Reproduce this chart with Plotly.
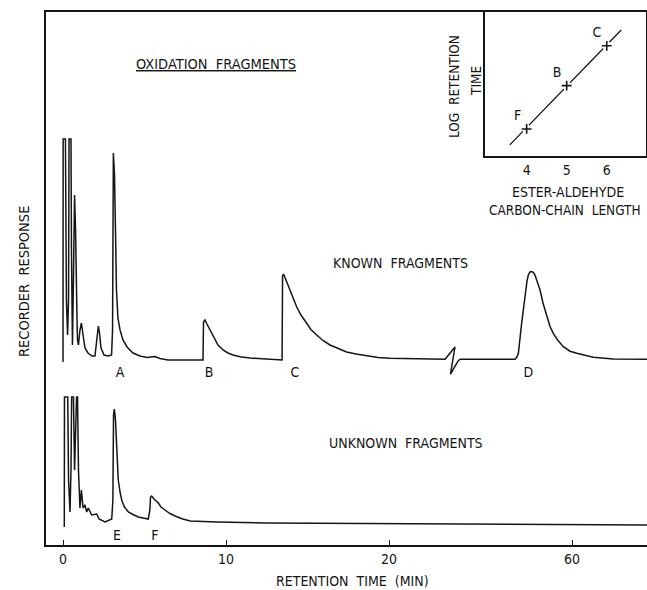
import plotly.graph_objects as go

# ---------------- data ----------------
# Known fragments: time (min) and recorder response (arbitrary units above its own baseline)
known_t1 = [0.00, 0.01, 0.15, 0.21, 0.28, 0.34, 0.37, 0.49, 0.52, 0.58, 0.64, 0.71, 0.77, 0.80,
            0.86, 0.89, 0.95, 1.04, 1.13, 1.23, 1.35, 1.53, 1.78, 1.96, 2.09, 2.17, 2.24, 2.33,
            2.52, 2.76, 2.98, 3.04, 3.09, 3.16, 3.22, 3.28, 3.37, 3.50, 3.68, 3.93, 4.29, 4.72,
            5.15, 5.46, 5.64, 5.95, 6.44, 7.18, 8.59, 8.62, 8.71, 8.83, 9.02, 9.26, 9.51, 9.82,
            10.12, 10.43, 10.86, 11.47, 12.39, 13.44, 13.47, 13.53, 13.68, 13.93, 14.11, 14.34,
            14.60, 14.95, 15.21, 15.56, 15.95, 16.38, 16.87, 17.40, 17.98, 18.63, 19.33, 20.06,
            21.90, 23.44, 24.05, 23.77, 24.25, 24.36]
known_r1 = [-2, 221, 221, 60, 25, 60, 221, 221, 110, 15, 80, 165, 130, 80,
            40, 20, 15, 30, 37, 25, 12, 7, 4, 4, 20, 34, 27, 12,
            5, 4, 5, 30, 207, 185, 130, 70, 42, 30, 20, 13, 7, 4,
            2.5, 3.5, 3.5, 1.5, 0, 0, 0, 38, 40, 36, 30, 22, 15, 10,
            7, 5, 3.2, 2, 1, 0, 84, 86, 80, 70, 62, 53,
            45, 37, 30.5, 25, 19.5, 15, 11.5, 8, 6, 4, 2.5, 1.7,
            1, 0.7, 13, -14, -0.7, 0.7]
known_t2 = [53.13, 56.50, 56.62, 56.71, 56.91, 57.12, 57.24, 57.32, 57.42, 57.53, 57.64, 57.73,
            57.88, 58.04, 58.22, 58.45, 58.65, 58.85, 59.14, 59.47, 59.88, 60.29, 60.80, 61.31,
            62.53, 64.60]
known_r2 = [0.7, 0.7, 3, 6.7, 36.7, 66.7, 79, 85, 88, 88.5, 87.5, 85,
            78.5, 70, 57, 43.3, 33.5, 26.7, 19.5, 13.3, 8.8, 6.7, 4.5, 2.7,
            1, 0.7]

# Unknown fragments
unknown_t1 = [0.08, 0.09, 0.29, 0.34, 0.43, 0.49, 0.53, 0.64, 0.71, 0.77, 0.83, 0.89, 0.95,
              1.04, 1.13, 1.23, 1.35, 1.45, 1.55, 1.76, 2.07, 2.21, 2.58, 2.99, 3.06, 3.10,
              3.15, 3.22, 3.29, 3.34, 3.39, 3.50, 3.60, 3.77, 4.01, 4.29, 4.62, 4.91, 5.23,
              5.33, 5.37, 5.44, 5.58, 5.85, 6.01, 6.26, 6.56, 6.87, 7.30, 7.80, 8.40, 9.43,
              12.50, 16.38, 20.67, 24.36]
unknown_r1 = [-3, 127, 127, 44, 12, 54, 127, 127, 54, 84, 127, 127, 54,
              16, 34, 16, 19, 12, 16, 9, 10, 5, 2, 5, 24, 109,
              115, 104, 84, 62, 44, 32, 24, 17, 12, 9.5, 7, 6, 5,
              14, 27, 28, 25, 21, 17, 14, 10.5, 8, 5.2, 3, 2.4, 2,
              1, 0.5, 0, 0]
unknown_t2 = [53.13, 64.60]
unknown_r2 = [0, -1]

KNOWN_BASE = 185     # baseline level of the "known" trace on the response axis
UNKNOWN_BASE = 21    # baseline level of the "unknown" trace

# peak letters
known_labels = ["A", "B", "C"]
known_label_t = [3.50, 8.96, 14.23]
late_labels = ["D"]
late_label_t = [57.32]
unknown_labels = ["E", "F"]
unknown_label_t = [3.31, 5.64]

# axis ticks (broken time axis)
ticks_part1 = [0, 10, 20]
ticks_part2 = [60]

# inset: log retention time vs ester-aldehyde carbon-chain length
chain_length = [4, 5, 6]
retention_min = [5.4, 8.7, 13.5]
point_labels = ["F", "B", "C"]
fit_length = [3.58, 6.36]
fit_retention = [4.53, 16.07]
inset_ticks = [4, 5, 6]

# ---------------- figure ----------------
INK = "#151515"
FONT = "DejaVu Sans Condensed"
W, H = 647, 590
ML, MR, MT, MB = 46, 0, 12, 45
PW, PH = W - ML - MR, H - MT - MB
SPLIT = (460 - ML) / PW

fig = go.Figure()
line = dict(color=INK, width=1.5)

fig.add_trace(go.Scatter(x=known_t1, y=[KNOWN_BASE + r for r in known_r1], mode="lines",
                         line=line, xaxis="x", yaxis="y", hoverinfo="skip"))
fig.add_trace(go.Scatter(x=known_t2, y=[KNOWN_BASE + r for r in known_r2], mode="lines",
                         line=line, xaxis="x2", yaxis="y", hoverinfo="skip"))
fig.add_trace(go.Scatter(x=unknown_t1, y=[UNKNOWN_BASE + r for r in unknown_r1], mode="lines",
                         line=line, xaxis="x", yaxis="y", hoverinfo="skip"))
fig.add_trace(go.Scatter(x=unknown_t2, y=[UNKNOWN_BASE + r for r in unknown_r2], mode="lines",
                         line=line, xaxis="x2", yaxis="y", hoverinfo="skip"))

# peak letters as text marks
lab_font = dict(family=FONT, size=14, color=INK)
fig.add_trace(go.Scatter(x=known_label_t, y=[KNOWN_BASE - 13] * len(known_label_t), mode="text",
                         text=known_labels, textfont=lab_font, xaxis="x", yaxis="y"))
fig.add_trace(go.Scatter(x=late_label_t, y=[KNOWN_BASE - 13] * len(late_label_t), mode="text",
                         text=late_labels, textfont=lab_font, xaxis="x2", yaxis="y"))
fig.add_trace(go.Scatter(x=unknown_label_t, y=[UNKNOWN_BASE - 12] * len(unknown_label_t), mode="text",
                         text=unknown_labels, textfont=lab_font, xaxis="x", yaxis="y"))

# inset
fig.add_trace(go.Scatter(x=fit_length, y=fit_retention, mode="lines", line=dict(color=INK, width=1.3),
                         xaxis="x3", yaxis="y3", hoverinfo="skip"))
fig.add_trace(go.Scatter(x=chain_length, y=retention_min, mode="markers",
                         marker=dict(symbol="circle", size=9, color="white"),
                         xaxis="x3", yaxis="y3", hoverinfo="skip"))
fig.add_trace(go.Scatter(x=chain_length, y=retention_min, mode="markers+text",
                         marker=dict(symbol="cross-thin", size=7, line=dict(color=INK, width=1.6)),
                         text=point_labels, textposition="top left", textfont=lab_font,
                         xaxis="x3", yaxis="y3", hoverinfo="skip"))

axis_common = dict(showgrid=False, zeroline=False, showline=True, linecolor=INK, linewidth=1.6)
tick_font = dict(family=FONT, size=14, color=INK)

fig.update_layout(
    width=W, height=H, margin=dict(l=ML, r=MR, t=MT, b=MB),
    paper_bgcolor="white", plot_bgcolor="white", showlegend=False,
    xaxis=dict(domain=[0, SPLIT], range=[(ML - 63) / 16.3, 24.356], anchor="y", mirror=True,
               tickmode="array", tickvals=ticks_part1, ticktext=[str(v) for v in ticks_part1],
               ticks="inside", ticklen=5, tickwidth=1.2, tickcolor=INK, tickfont=tick_font,
               **axis_common),
    xaxis2=dict(domain=[SPLIT, 1], range=[53.129, 64.601], anchor="y", mirror=True,
                tickmode="array", tickvals=ticks_part2, ticktext=[str(v) for v in ticks_part2],
                ticks="inside", ticklen=5, tickwidth=1.2, tickcolor=INK, tickfont=tick_font,
                **axis_common),
    yaxis=dict(domain=[0, 1], range=[0, PH], anchor="x", showticklabels=False, ticks="",
               **axis_common),
    xaxis3=dict(domain=[(485 - ML) / PW, (646 - ML) / PW], range=[2.96, 6.98], anchor="y3",
                mirror=True, tickmode="array", tickvals=inset_ticks, ticks="",
                tickfont=tick_font, **axis_common),
    yaxis3=dict(domain=[(545 - 156) / PH, 1], type="log", range=[0.603, 1.292], anchor="x3",
                mirror=True, showticklabels=False, ticks="", **axis_common),
)


def ann(text, px, py, angle=0, size=14):
    fig.add_annotation(text=text, x=(px - ML) / PW, y=(MT + PH - py) / PH, xref="paper", yref="paper",
                       showarrow=False, textangle=angle, font=dict(family=FONT, size=size, color=INK),
                       xanchor="center", yanchor="middle")


ann("<u>OXIDATION  FRAGMENTS</u>", 216, 64, size=14.5)
ann("KNOWN  FRAGMENTS", 400, 263)
ann("UNKNOWN  FRAGMENTS", 406, 443)
ann("RECORDER  RESPONSE", 24, 282, angle=-90, size=14.5)
ann("RETENTION  TIME  (MIN)", 352, 581)
ann("LOG  RETENTION", 454, 86, angle=-90, size=13.5)
ann("TIME", 476, 81, angle=-90, size=13.5)
ann("ESTER-ALDEHYDE", 568, 192)
ann("CARBON-CHAIN  LENGTH", 565, 210, size=13.5)

fig.write_html("out.html", config={"displayModeBar": False},
               post_script="document.body.style.margin='0';document.body.style.padding='0';")
